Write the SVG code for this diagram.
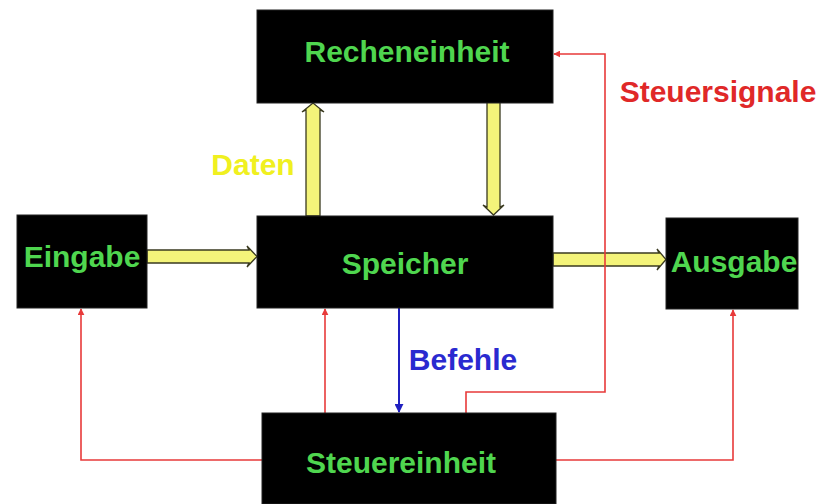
<svg xmlns="http://www.w3.org/2000/svg" width="823" height="504" viewBox="0 0 823 504">
  <style>
    .box { fill: #000; stroke: #222; stroke-width: 1; }
    .label { font-family: "Liberation Sans", Arial, sans-serif; font-weight: bold; font-size: 30px; text-anchor: middle; }
    .unit { fill: #4fd64f; }
    .bus { fill: #f4f47a; stroke: #3a3a20; stroke-width: 1.3; stroke-linejoin: miter; }
    .ctrl { fill: none; stroke: #e83a3a; stroke-width: 1.6; }
    .cmd { fill: none; stroke: #2020c0; stroke-width: 2; }
  </style>
  <defs>
    <marker id="redHead" viewBox="0 0 10 10" refX="9" refY="5" markerWidth="7" markerHeight="7" markerUnits="userSpaceOnUse" orient="auto">
      <path d="M0,0 L10,5 L0,10 Z" fill="#e83a3a"/>
    </marker>
    <marker id="blueHead" viewBox="0 0 10 10" refX="9" refY="5" markerWidth="9" markerHeight="9" markerUnits="userSpaceOnUse" orient="auto">
      <path d="M0,0 L10,5 L0,10 Z" fill="#2020c0"/>
    </marker>
  </defs>
  <rect width="823" height="504" fill="#fff"/>

  <g id="connectors">
    <!-- data buses (yellow double-line arrows) -->
    <path class="bus" d="M147,250 H249 L247,246 L257,256.5 L247,267 L249,263 H147 Z"/>
    <path class="bus" d="M553,253 H659 L657,249 L666,259.5 L657,270 L659,266 H553 Z"/>
    <path class="bus" d="M306,216 V110 L302,112 L313,103 L324,112 L320,110 V216 Z"/>
    <path class="bus" d="M487,102 V207 L483,205 L493.5,215 L504,205 L500,207 V102 Z"/>

    <!-- instructions -->
    <path class="cmd" d="M399,308 V412" marker-end="url(#blueHead)"/>

    <!-- control signals -->
    <path class="ctrl" d="M262,460 H81 V309" marker-end="url(#redHead)"/>
    <path class="ctrl" d="M325,413 V309" marker-end="url(#redHead)"/>
    <path class="ctrl" d="M556,460 H733 V310" marker-end="url(#redHead)"/>
    <path class="ctrl" d="M466,413 V392 H605 V54 H554" marker-end="url(#redHead)"/>
  </g>

  <g id="recheneinheit">
    <rect class="box" x="257" y="10" width="296" height="93"/>
    <text class="label unit" x="407" y="62">Recheneinheit</text>
  </g>
  <g id="speicher">
    <rect class="box" x="257" y="216" width="296" height="92"/>
    <text class="label unit" x="405" y="274">Speicher</text>
  </g>
  <g id="eingabe">
    <rect class="box" x="17" y="215" width="130" height="93"/>
    <text class="label unit" x="82" y="267">Eingabe</text>
  </g>
  <g id="ausgabe">
    <rect class="box" x="666" y="218" width="132" height="91"/>
    <text class="label unit" x="734" y="272">Ausgabe</text>
  </g>
  <g id="steuereinheit">
    <rect class="box" x="262" y="413" width="294" height="91"/>
    <text class="label unit" x="401" y="473">Steuereinheit</text>
  </g>

  <g id="labels">
    <text class="label" x="253" y="175" fill="#f0f020">Daten</text>
    <text class="label" x="463" y="370" fill="#2a2ad0">Befehle</text>
    <text class="label" x="718" y="102" fill="#e02828">Steuersignale</text>
  </g>
</svg>
